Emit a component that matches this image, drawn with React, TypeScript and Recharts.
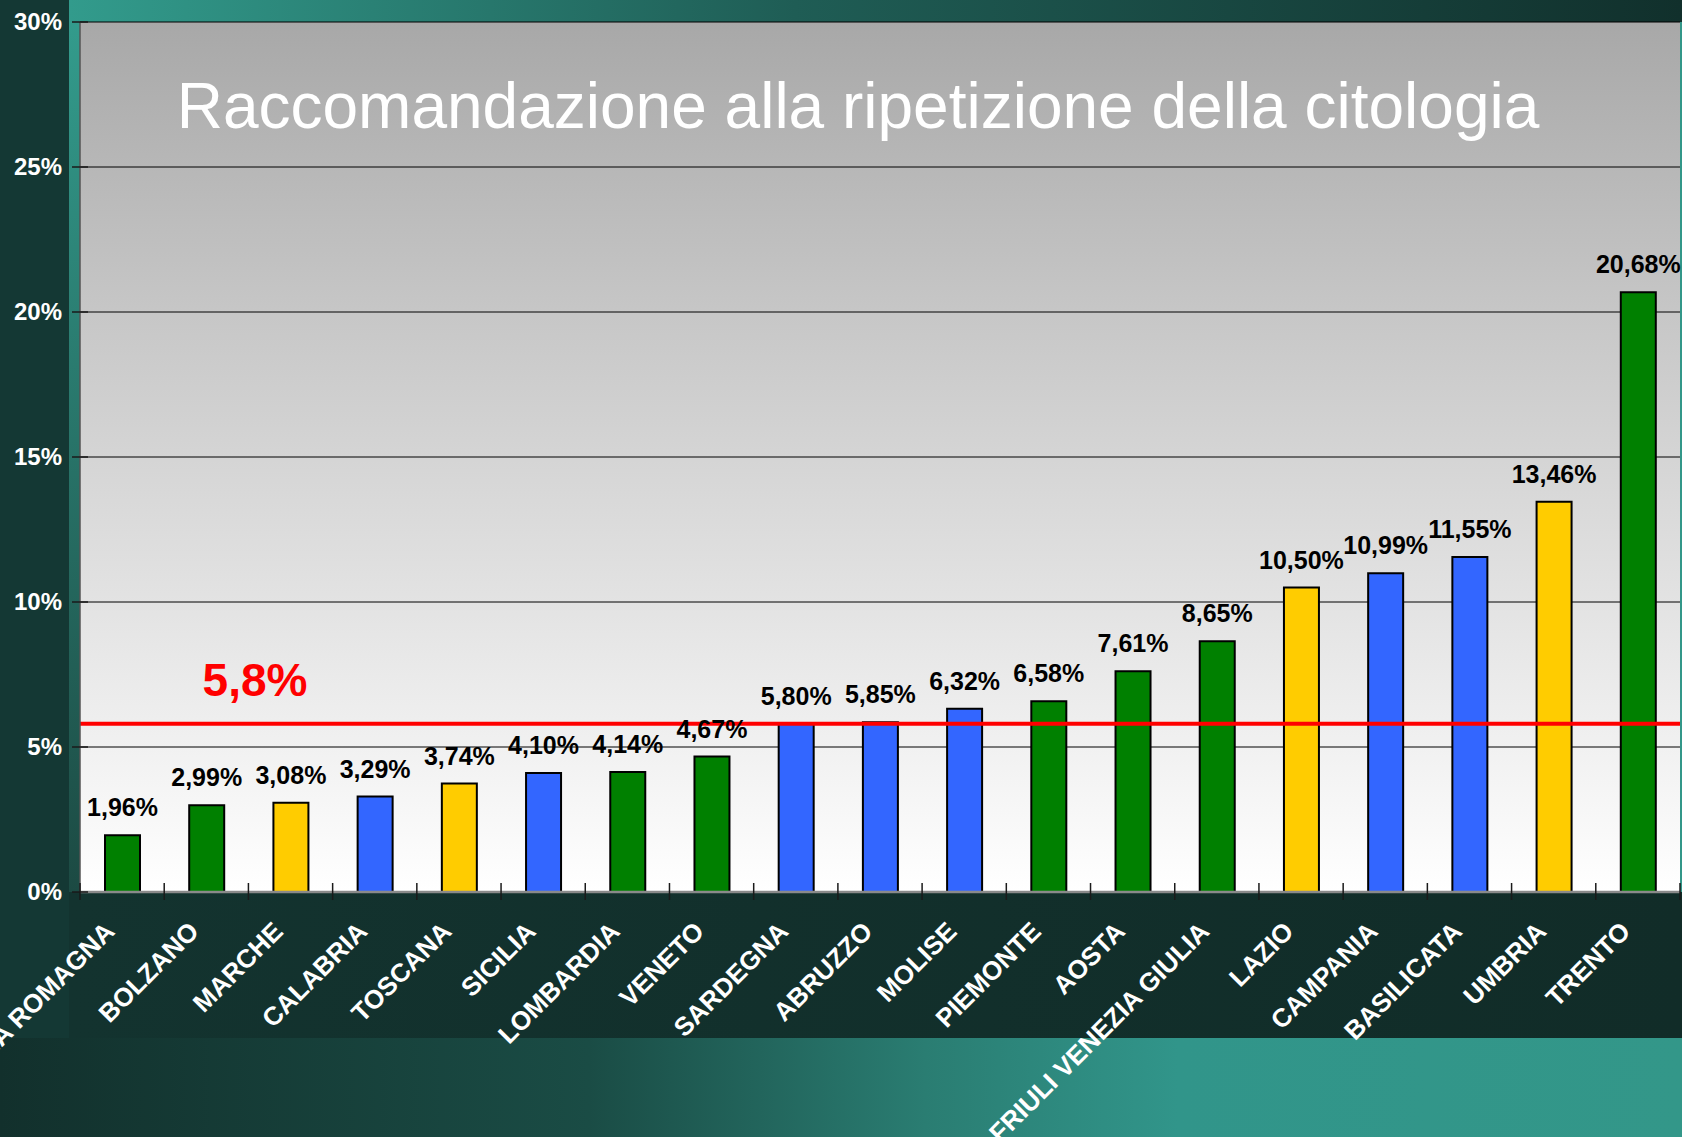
import React from 'react';
import { BarChart, Bar, XAxis, YAxis, CartesianGrid, ReferenceLine, LabelList, Cell } from 'recharts';

// Italian regions, sorted by rate of "repeat cytology" recommendation
const regions = [
  'EMILIA ROMAGNA', 'BOLZANO', 'MARCHE', 'CALABRIA', 'TOSCANA', 'SICILIA', 'LOMBARDIA',
  'VENETO', 'SARDEGNA', 'ABRUZZO', 'MOLISE', 'PIEMONTE', 'AOSTA', 'FRIULI VENEZIA GIULIA',
  'LAZIO', 'CAMPANIA', 'BASILICATA', 'UMBRIA', 'TRENTO',
];
const repeatRate = [
  1.96, 2.99, 3.08, 3.29, 3.74, 4.10, 4.14, 4.67, 5.80, 5.85, 6.32, 6.58, 7.61, 8.65,
  10.50, 10.99, 11.55, 13.46, 20.68,
];
const area = [
  'nord', 'nord', 'centro', 'sud', 'centro', 'sud', 'nord', 'nord', 'sud', 'sud', 'sud',
  'nord', 'nord', 'nord', 'centro', 'sud', 'sud', 'centro', 'nord',
];
const yTicks = [0, 5, 10, 15, 20, 25, 30];
const nationalRate = 5.8;
const nationalLabel = '5,8%';
const title = 'Raccomandazione alla ripetizione della citologia';

const areaColors: Record<string, string> = { nord: '#008000', centro: '#FFCC00', sud: '#3366FF' };

const W = 1682;
const H = 1137;
const PLOT_L = 80;
const PLOT_R = 1680;
const PLOT_T = 22;
const PLOT_B = 892;
const BAND = (PLOT_R - PLOT_L) / regions.length;
const FONT = '"Liberation Sans", Arial, sans-serif';

const chartData = regions.map((region, i) => ({ region, rate: repeatRate[i], area: area[i] }));

const pct = (v: number) => v.toFixed(2).replace('.', ',') + '%';

function XTick(props: any) {
  const { x, y, payload, index } = props;
  return (
    <g>
      <line x1={x - BAND / 2} x2={x - BAND / 2} y1={y - 17} y2={y} stroke="#1a1a1a" strokeWidth={1.5} />
      {index === regions.length - 1 && (
        <line x1={x + BAND / 2} x2={x + BAND / 2} y1={y - 17} y2={y} stroke="#1a1a1a" strokeWidth={1.5} />
      )}
      <text
        transform={`translate(${x - 6},${y + 33}) rotate(-45)`}
        textAnchor="end"
        fill="#fff"
        fontSize={26}
        fontWeight="bold"
        fontFamily={FONT}
      >
        {payload.value}
      </text>
    </g>
  );
}

function YTick(props: any) {
  const { x, y, payload } = props;
  return (
    <g>
      <line x1={x} x2={x + 16} y1={y} y2={y} stroke="#1a1a1a" strokeWidth={1.5} />
      <text x={x - 10} y={y} dy={8} textAnchor="end" fill="#fff" fontSize={24} fontWeight="bold" fontFamily={FONT}>
        {payload.value}%
      </text>
    </g>
  );
}

function BarValue(props: any) {
  const { x, y, width, value } = props;
  return (
    <text x={x + width / 2} y={y - 19} textAnchor="middle" fill="#000" fontSize={25} fontWeight="bold" fontFamily={FONT}>
      {pct(value)}
    </text>
  );
}

function NationalLabel(props: any) {
  const vb = props.viewBox || { x: PLOT_L, y: 724 };
  return (
    <text x={vb.x + 175} y={vb.y - 28} textAnchor="middle" fill="#FF0000" fontSize={46} fontWeight="bold" fontFamily={FONT}>
      {nationalLabel}
    </text>
  );
}

export default function App() {
  return (
    <div
      style={{
        position: 'relative',
        width: W,
        height: H,
        overflow: 'hidden',
        background: 'linear-gradient(90deg, #12302c 0%, #1a4c45 35%, #2a7d72 55%, #31958a 70%, #339789 100%)',
      }}
    >
      <style>{'body{margin:0}'}</style>
      {/* slide decorations */}
      <div style={{ position: 'absolute', left: 0, top: 0, width: 69, height: 1038, background: '#143834' }} />
      <div
        style={{
          position: 'absolute', left: 69, top: 0, width: W - 69, height: PLOT_T,
          background: 'linear-gradient(90deg, #329b8c 0%, #1f5d55 45%, #11302c 100%)',
        }}
      />
      <div
        style={{
          position: 'absolute', left: 69, top: PLOT_T, width: PLOT_L - 69, height: PLOT_B - PLOT_T,
          background: 'linear-gradient(180deg, #339b8c 0%, #1c4a43 100%)',
        }}
      />
      <div
        style={{
          position: 'absolute', left: 69, top: PLOT_B, width: W - 69, height: 1038 - PLOT_B,
          background: 'linear-gradient(90deg, #13332f 0%, #112c28 100%)',
        }}
      />
      <div
        style={{
          position: 'absolute', left: PLOT_L, top: PLOT_T, width: PLOT_R - PLOT_L, height: PLOT_B - PLOT_T,
          background: 'linear-gradient(180deg, #a8a8a8 0%, #c8c8c8 35%, #ffffff 100%)',
        }}
      />
      <svg width={W} height={200} style={{ position: 'absolute', left: 0, top: 0 }}>
        <text x={858} y={128} textAnchor="middle" fill="#fff" fontSize={64} fontFamily={FONT}>
          {title}
        </text>
      </svg>
      <div style={{ position: 'absolute', left: 0, top: 0 }}>
        <BarChart
          width={W}
          height={H}
          data={chartData}
          margin={{ top: PLOT_T, right: W - PLOT_R, bottom: 0, left: 0 }}
          barSize={35}
        >
          <CartesianGrid horizontal vertical={false} stroke="#000" strokeWidth={1} />
          <YAxis
            type="number"
            domain={[0, 30]}
            ticks={yTicks}
            width={PLOT_L}
            axisLine={{ stroke: '#555', strokeWidth: 1.5 }}
            tickLine={false}
            tick={<YTick />}
            interval={0}
          />
          <XAxis
            dataKey="region"
            height={H - PLOT_B}
            interval={0}
            axisLine={{ stroke: '#8a8a8a', strokeWidth: 2.5 }}
            tickLine={false}
            tick={<XTick />}
          />
          <Bar dataKey="rate" stroke="#000" strokeWidth={2} isAnimationActive={false}>
            {chartData.map((d, i) => (
              <Cell key={`c-${i}`} fill={areaColors[d.area]} />
            ))}
            <LabelList dataKey="rate" content={<BarValue />} />
          </Bar>
          <ReferenceLine y={nationalRate} stroke="#FF0000" strokeWidth={4} label={<NationalLabel />} />
        </BarChart>
      </div>
    </div>
  );
}
